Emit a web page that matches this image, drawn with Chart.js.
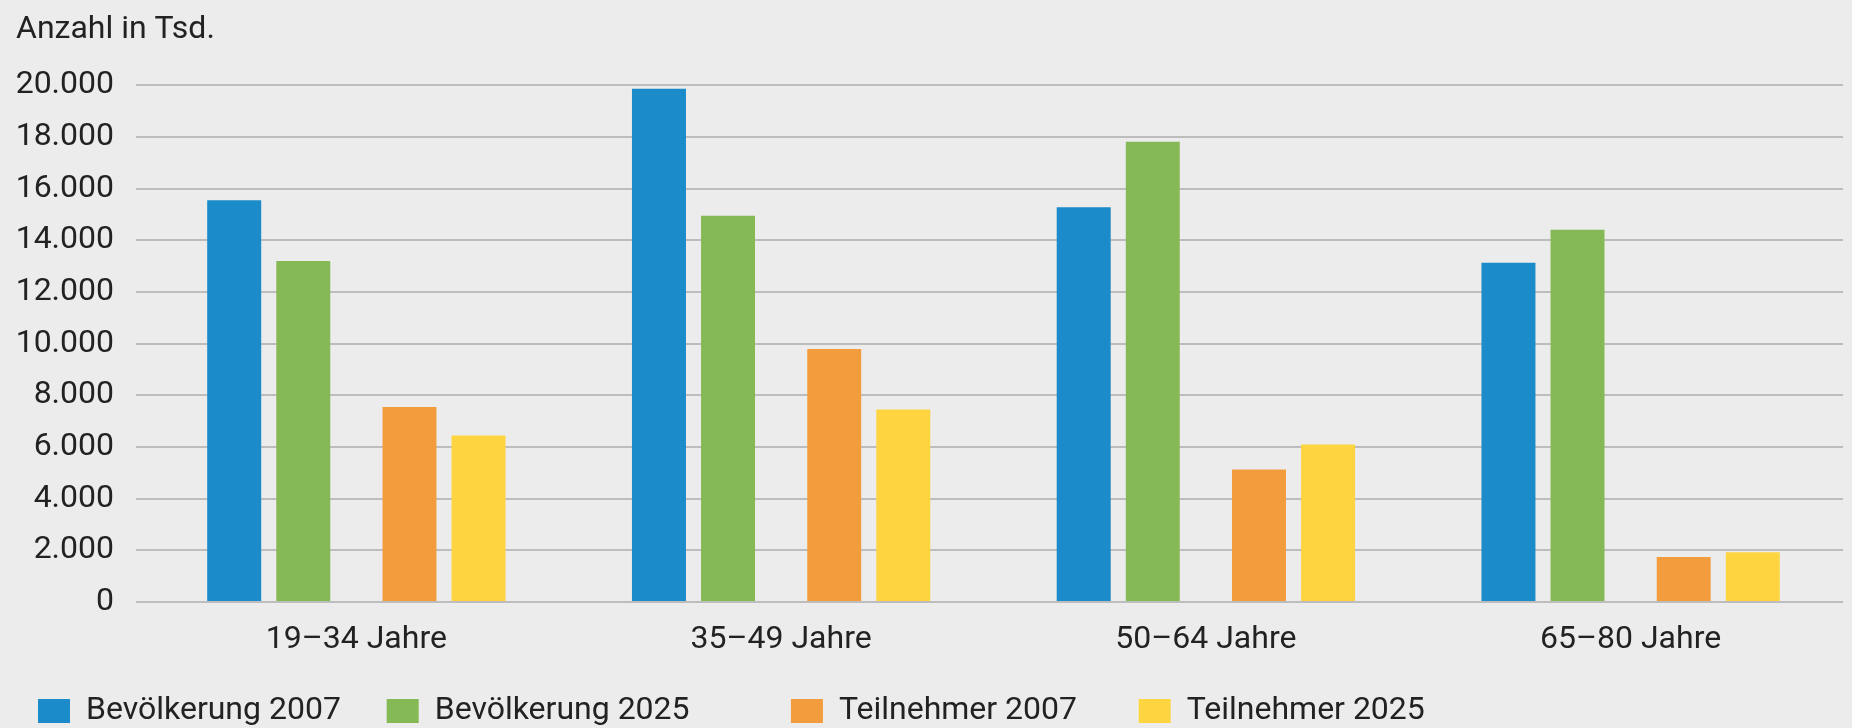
<!DOCTYPE html>
<html lang="de">
<head>
<meta charset="utf-8">
<title>Anzahl in Tsd.</title>
<script src="https://cdn.jsdelivr.net/npm/chart.js@4/dist/chart.umd.min.js"></script>
<style>
    html, body { margin: 0; padding: 0; background: #ececec; }
    #grafik { display: block; }
</style>
</head>
<body>
<canvas id="grafik" width="1852" height="728"></canvas>
<script>
// Daten (Anzahl in Tsd.)
const kategorien = ['19–34 Jahre', '35–49 Jahre', '50–64 Jahre', '65–80 Jahre'];
const serien = ['Bevölkerung 2007', 'Bevölkerung 2025', 'Teilnehmer 2007', 'Teilnehmer 2025'];
const bevoelkerung2007 = [15550, 19870, 15280, 13130];
const bevoelkerung2025 = [13200, 14950, 17820, 14410];
const teilnehmer2007 = [7550, 9790, 5130, 1740];
const teilnehmer2025 = [6450, 7450, 6100, 1930];

const farben = ['#1b8bc9', '#84b955', '#f39c3e', '#fed541'];
// äußere Balken enger, innere breiter gruppiert -> Lücke zwischen den Paaren
const kategorieAnteil = [0.767, 1.0, 1.0, 0.767];
const balkenAnteil = [0.663, 0.508, 0.508, 0.663];
// Leerzeichen hinter den Legendeneinträgen (ungleiche Abstände wie im Original)
const legendenLuecke = [3, 10, 5, 0];

const schrift = 'Roboto, "Liberation Sans", sans-serif';
const textFarbe = '#222222';

function tausender(wert) {
    return String(wert).replace(/\B(?=(\d{3})+(?!\d))/g, '.');
}

const werte = [bevoelkerung2007, bevoelkerung2025, teilnehmer2007, teilnehmer2025];
const datasets = serien.map((name, i) => ({
    label: name,
    data: werte[i],
    backgroundColor: farben[i],
    borderWidth: 0,
    categoryPercentage: kategorieAnteil[i],
    barPercentage: balkenAnteil[i]
}));

Chart.defaults.font.family = schrift;
Chart.defaults.color = textFarbe;

new Chart(document.getElementById('grafik'), {
    type: 'bar',
    data: {
        labels: kategorien,
        datasets: datasets
    },
    options: {
        responsive: false,
        animation: false,
        devicePixelRatio: 1,
        layout: {
            padding: { left: 16, right: 9, top: 0, bottom: -9 }
        },
        plugins: {
            title: {
                display: true,
                text: 'Anzahl in Tsd.',
                align: 'start',
                color: textFarbe,
                font: { size: 32, weight: 'normal' },
                padding: { top: 11, bottom: 36 }
            },
            legend: {
                position: 'bottom',
                align: 'start',
                labels: {
                    boxWidth: 32,
                    boxHeight: 24,
                    padding: 22,
                    color: textFarbe,
                    font: { size: 32 },
                    generateLabels: (chart) => Chart.defaults.plugins.legend.labels.generateLabels(chart)
                        .map((item, i) => ({ ...item, text: item.text + ' '.repeat(legendenLuecke[i]) }))
                }
            },
            tooltip: { enabled: false }
        },
        scales: {
            x: {
                grid: { display: false, drawTicks: false },
                border: { display: false },
                ticks: {
                    padding: 19,
                    color: textFarbe,
                    font: { size: 32 }
                },
                afterFit: (skala) => { skala.height = 71; }
            },
            y: {
                min: 0,
                max: 20000,
                grid: {
                    color: '#bdbdbd',
                    lineWidth: 2,
                    drawTicks: true,
                    tickLength: 8
                },
                border: { display: false },
                ticks: {
                    stepSize: 2000,
                    padding: 22,
                    color: textFarbe,
                    font: { size: 32 },
                    callback: (wert) => tausender(wert)
                },
                afterFit: (skala) => { skala.width = 128; }
            }
        }
    }
});
</script>
</body>
</html>
